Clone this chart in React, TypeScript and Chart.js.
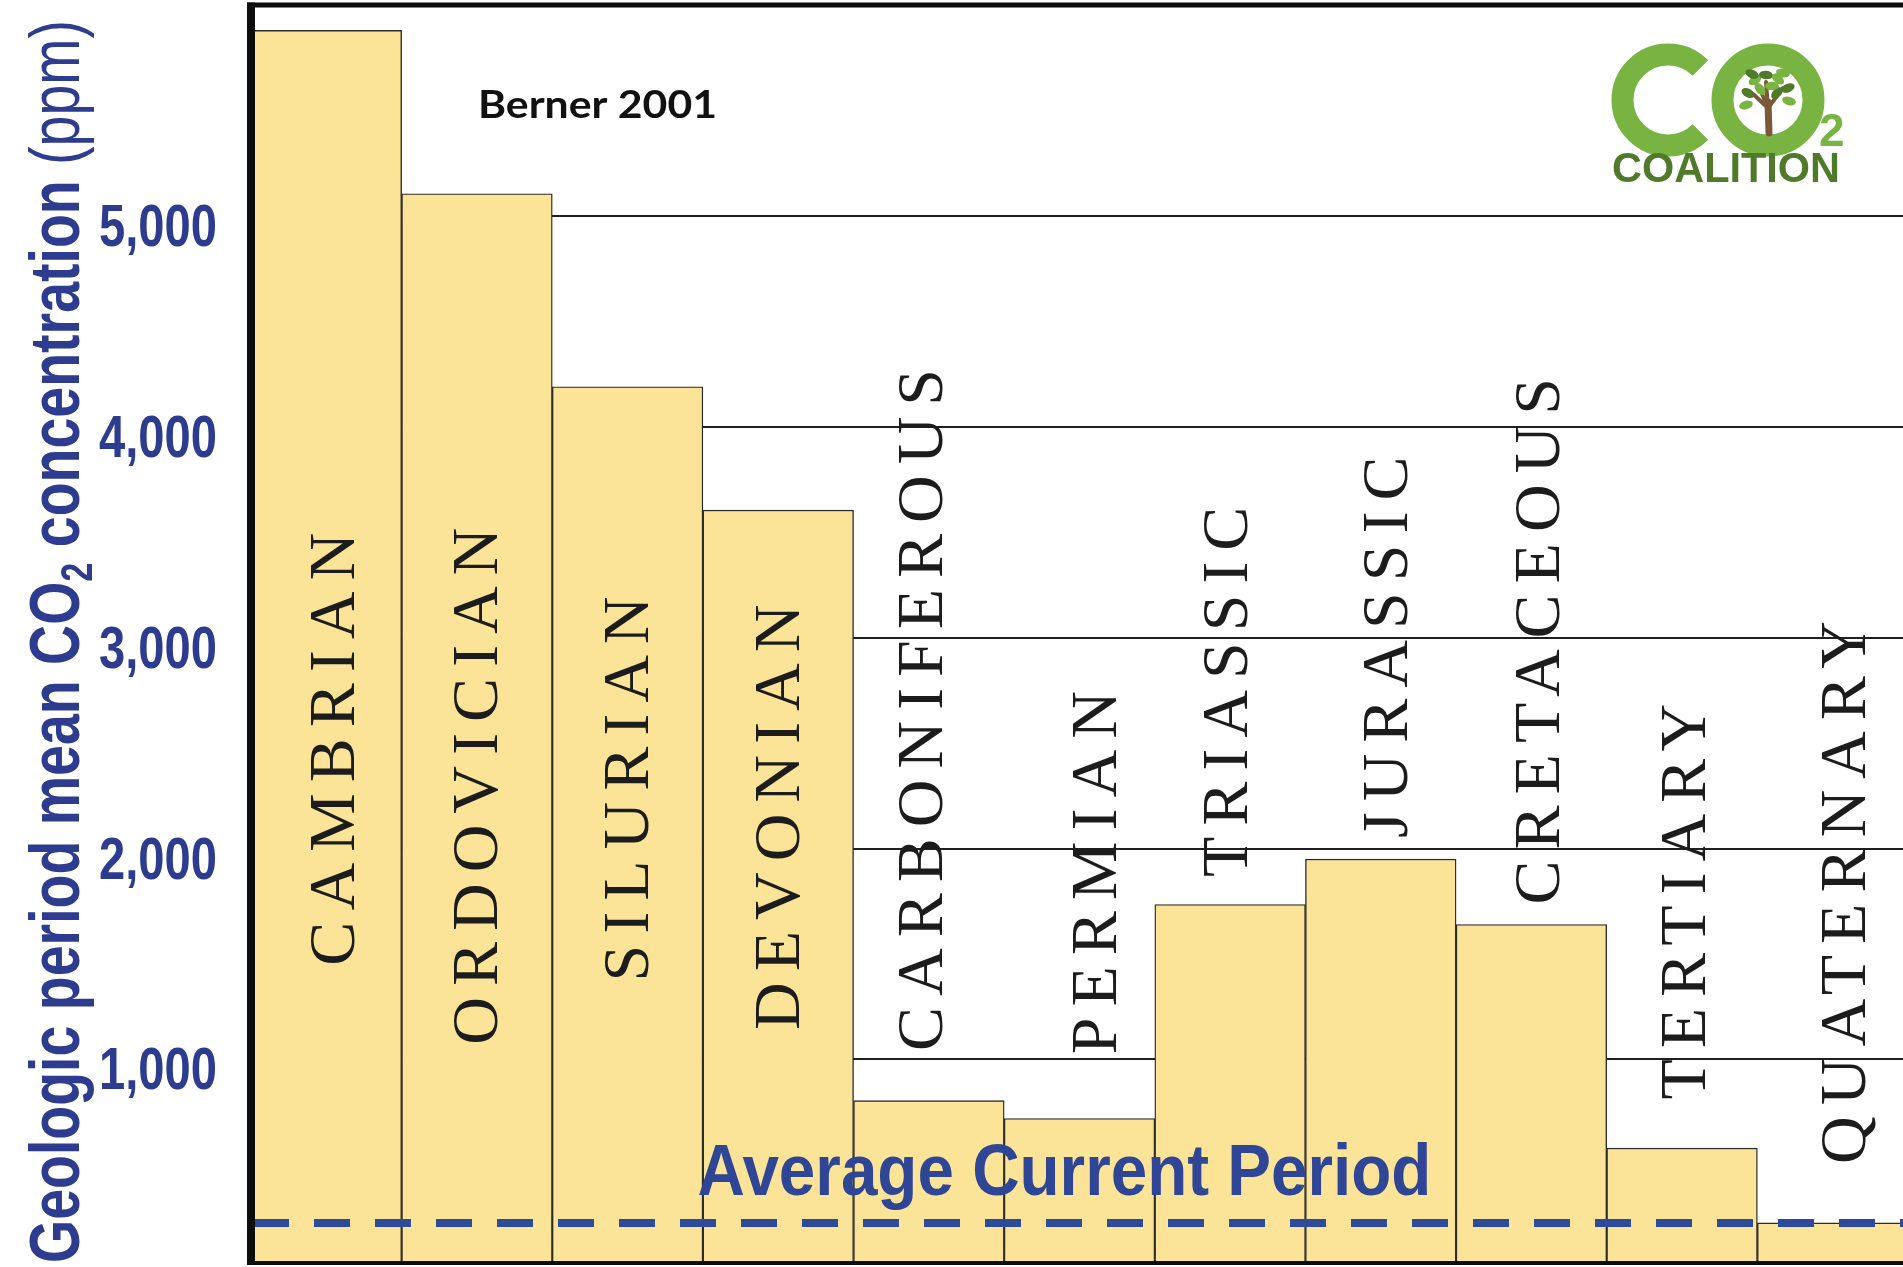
import React, { useEffect, useRef } from 'react';
import { Chart, registerables } from 'chart.js';

Chart.register(...registerables);

// ---------- data ----------
const periods = [
  'CAMBRIAN', 'ORDOVICIAN', 'SILURIAN', 'DEVONIAN', 'CARBONIFEROUS', 'PERMIAN',
  'TRIASSIC', 'JURASSIC', 'CRETACEOUS', 'TERTIARY', 'QUATERNARY',
];
const co2Values = [5880, 5105, 4190, 3605, 805, 720, 1735, 1950, 1640, 580, 225];
// value (ppm) at which each rotated period name starts (its bottom end)
const labelStartValues = [1445, 1070, 1370, 1140, 1040, 1025, 1865, 2050, 1735, 810, 505];
// horizontal placement of each period name, as a shift in category units from the bar centre
const labelShift = [0.04, -0.01, -0.01, -0.01, -0.06, 0.1, -0.03, 0.03, 0.04, 0.01, 0.07];
const yTickValues = [1000, 2000, 3000, 4000, 5000];
const yMin = 35;
const yMax = 6000;
const currentAverage = 225;
const currentLabel = 'Average Current Period';
const sourceLabel = 'Berner 2001';
const titleParts = [
  { text: 'Geologic period mean CO', bold: true, sub: false },
  { text: '2', bold: true, sub: true },
  { text: ' concentration ', bold: true, sub: false },
  { text: '(ppm)', bold: false, sub: false },
];
const logoWord = 'COALITION';

// ---------- styles ----------
const BLUE_TEXT = '#2d3c8e';
const BLUE_LINE = '#2e4a9a';
const BAR_FILL = '#fbe498';
const BAR_EDGE = '#2b2b2b';
const SANS = '"Liberation Sans", Arial, Helvetica, sans-serif';
const SERIF = '"Liberation Serif", "Times New Roman", serif';
const CANVAS_W = 1908;
const CANVAS_H = 1267;

function fitText(ctx: CanvasRenderingContext2D, text: string, x: number, y: number, targetW: number, align: CanvasTextAlign) {
  const w = ctx.measureText(text).width;
  const s = targetW / w;
  ctx.save();
  ctx.translate(x, y);
  ctx.scale(s, 1);
  ctx.textAlign = align;
  ctx.fillText(text, 0, 0);
  ctx.restore();
}

const overlayPlugin = {
  id: 'overlay',
  afterDatasetsDraw(chart: any) {
    const { ctx, chartArea: a, scales } = chart;
    const xs = scales.x;
    const ys = scales.y;
    ctx.save();

    // period names, rotated, inside the bars
    const fs = 66;
    const capH = fs * 0.662;
    ctx.font = `${fs}px ${SERIF}`;
    ctx.fillStyle = '#1c1c1c';
    (ctx as any).letterSpacing = '11px';
    ctx.textAlign = 'left';
    ctx.textBaseline = 'alphabetic';
    periods.forEach((p, i) => {
      const cx = xs.getPixelForValue(i + labelShift[i]) + capH / 2;
      const cy = ys.getPixelForValue(labelStartValues[i]);
      ctx.save();
      ctx.translate(cx, cy);
      ctx.rotate(-Math.PI / 2);
      ctx.fillText(p, 0, 0);
      ctx.restore();
    });
    (ctx as any).letterSpacing = '0px';

    // dashed current-average line
    const yAvg = ys.getPixelForValue(currentAverage);
    ctx.strokeStyle = BLUE_LINE;
    ctx.lineWidth = 8;
    ctx.setLineDash([36, 25]);
    ctx.lineCap = 'butt';
    ctx.beginPath();
    ctx.moveTo(a.left + 2, yAvg);
    ctx.lineTo(a.right, yAvg);
    ctx.stroke();
    ctx.setLineDash([]);

    // "Average Current Period"
    ctx.font = `bold 72px ${SANS}`;
    ctx.fillStyle = '#2f4596';
    fitText(ctx, currentLabel, xs.getPixelForValue(4.9), ys.getPixelForValue(358), 734, 'center');

    // "Berner 2001"
    ctx.font = `bold 39px Lato, "Open Sans", ${SANS}`;
    ctx.fillStyle = '#111';
    fitText(ctx, sourceLabel, xs.getPixelForValue(1.8), ys.getPixelForValue(5465), 239, 'center');

    ctx.restore();
  },
  afterDraw(chart: any) {
    const { ctx, chartArea: a, scales } = chart;
    const ys = scales.y;
    ctx.save();

    // frame
    ctx.fillStyle = '#0d0d0d';
    ctx.fillRect(a.left - 4, a.top - 2.5, 8, a.bottom - a.top + 4);
    ctx.fillRect(a.left - 4, a.top - 2.5, a.right - a.left + 8, 5);
    ctx.fillRect(a.left - 4, a.bottom - 2, a.right - a.left + 8, 4);

    // y tick labels (condensed bold)
    ctx.font = `bold 59px ${SANS}`;
    ctx.fillStyle = BLUE_TEXT;
    ctx.textBaseline = 'alphabetic';
    const sX = 118 / ctx.measureText('5,000').width;
    yTickValues.forEach((v) => {
      const y = ys.getPixelForValue(v);
      ctx.save();
      ctx.translate(217, y + 30);
      ctx.scale(sX, 1);
      ctx.textAlign = 'right';
      ctx.fillText(v.toLocaleString('en-US'), 0, 0);
      ctx.restore();
    });

    // y axis title, rotated, condensed
    const tfs = 71;
    const subFs = 44;
    const widths = titleParts.map((p) => {
      ctx.font = `${p.bold ? 'bold ' : ''}${p.sub ? subFs : tfs}px ${SANS}`;
      return ctx.measureText(p.text).width;
    });
    const total = widths.reduce((s, w) => s + w, 0);
    const tScale = 1243 / total;
    ctx.save();
    ctx.translate(79, 1263);
    ctx.rotate(-Math.PI / 2);
    ctx.scale(tScale, 1);
    let pos = 0;
    titleParts.forEach((p, i) => {
      ctx.font = `${p.bold ? 'bold ' : ''}${p.sub ? subFs : tfs}px ${SANS}`;
      ctx.textAlign = 'left';
      ctx.fillText(p.text, pos, p.sub ? 13 : 0);
      pos += widths[i];
    });
    ctx.restore();

    // CO2 Coalition logo
    const green = '#79b443';
    const dark = '#4f7a2a';
    const cC = { x: 1668, y: 100 };
    const cO = { x: 1768, y: 100 };
    ctx.strokeStyle = green;
    ctx.lineWidth = 22;
    ctx.lineCap = 'butt';
    ctx.beginPath();
    ctx.arc(cC.x, cC.y, 45.5, 0.78, Math.PI * 2 - 0.78);
    ctx.stroke();
    ctx.beginPath();
    ctx.arc(cO.x, cO.y, 45.5, 0, Math.PI * 2);
    ctx.stroke();
    // tree
    ctx.strokeStyle = '#7a5838';
    ctx.lineCap = 'round';
    ctx.lineWidth = 7;
    ctx.beginPath();
    ctx.moveTo(cO.x + 1, cO.y + 33);
    ctx.lineTo(cO.x, cO.y + 2);
    ctx.stroke();
    ctx.lineWidth = 4;
    [[-15, -6], [15, -12], [-2, -18], [-9, -13]].forEach(([dx, dy]) => {
      ctx.beginPath();
      ctx.moveTo(cO.x, cO.y + 8);
      ctx.lineTo(cO.x + dx, cO.y + dy);
      ctx.stroke();
    });
    const leaves = [
      [-20, -7, 0.5, dark], [-13, -20, -0.6, green], [-2, -25, 0.1, dark], [10, -21, 0.7, green],
      [20, -12, -0.4, dark], [21, 1, 0.3, green], [-22, 5, -0.3, green], [-8, -11, 0.9, green],
      [9, -7, -0.8, dark], [15, -27, 0.2, green], [-16, -26, 0.4, dark], [4, -14, 0, green],
    ] as [number, number, number, string][];
    leaves.forEach(([dx, dy, r, c]) => {
      ctx.fillStyle = c;
      ctx.beginPath();
      ctx.ellipse(cO.x + dx, cO.y + dy, 7, 4.3, r, 0, Math.PI * 2);
      ctx.fill();
    });
    ctx.fillStyle = green;
    ctx.font = `bold 46px ${SANS}`;
    ctx.textAlign = 'left';
    ctx.fillText('2', 1819, 146);
    ctx.fillStyle = dark;
    ctx.font = `bold 42px ${SANS}`;
    fitText(ctx, logoWord, 1612, 182, 228, 'left');

    ctx.restore();
  },
};

export default function App() {
  const ref = useRef<HTMLCanvasElement | null>(null);

  useEffect(() => {
    if (!ref.current) return;
    const chart = new Chart(ref.current, {
      type: 'bar',
      data: {
        labels: periods,
        datasets: [
          {
            data: co2Values,
            backgroundColor: BAR_FILL,
            borderColor: BAR_EDGE,
            borderWidth: 1.4,
            barPercentage: 1,
            categoryPercentage: 1,
          },
        ],
      },
      options: {
        animation: false,
        responsive: false,
        maintainAspectRatio: false,
        devicePixelRatio: 1,
        layout: { padding: { left: 251, right: 0, top: 5, bottom: 4 } },
        plugins: {
          legend: { display: false },
          tooltip: { enabled: false },
          title: { display: false },
        },
        scales: {
          x: { display: false },
          y: {
            min: yMin,
            max: yMax,
            afterBuildTicks: (s: any) => {
              s.ticks = yTickValues.map((v) => ({ value: v }));
            },
            ticks: { display: false },
            grid: { color: '#1f1f1f', lineWidth: 2, drawTicks: false },
            border: { display: false },
          },
        },
      },
      plugins: [overlayPlugin],
    });
    return () => chart.destroy();
  }, []);

  return (
    <div
      style={{
        position: 'fixed',
        left: 0,
        top: 0,
        width: 1903,
        height: 1267,
        overflow: 'hidden',
        background: '#ffffff',
      }}
    >
      <canvas ref={ref} width={CANVAS_W} height={CANVAS_H} style={{ display: 'block', width: CANVAS_W, height: CANVAS_H }} />
    </div>
  );
}
